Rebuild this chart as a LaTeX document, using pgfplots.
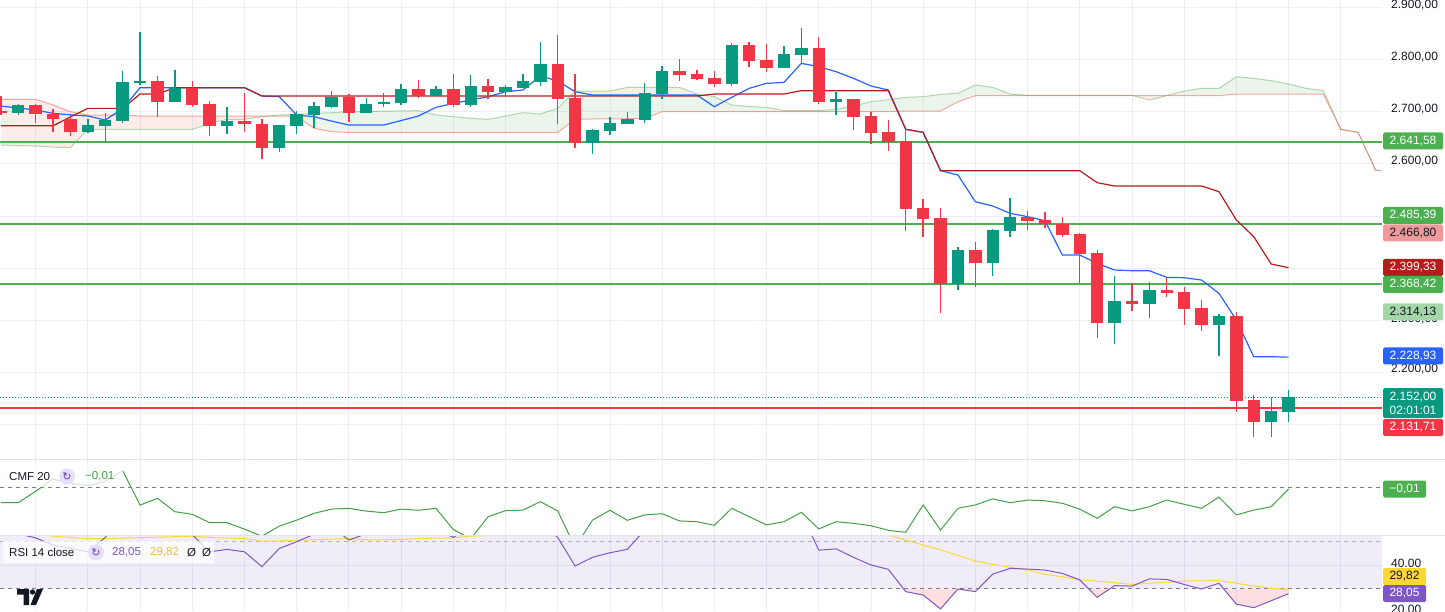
\documentclass[border=0pt]{standalone}
\usepackage{fontspec}
\setmainfont{Liberation Sans}
\newfontfamily\dejavu{DejaVu Sans}
\usepackage{pgfplots}
\usepackage{pgfplotstable}
\pgfplotsset{compat=1.18}

\definecolor{upc}{HTML}{089981}
\definecolor{downc}{HTML}{F23645}
\definecolor{tenkan}{HTML}{2962FF}
\definecolor{kijun}{HTML}{B71C1C}
\definecolor{spana}{HTML}{43A047}
\definecolor{spanb}{HTML}{F44336}
\definecolor{lvlgreen}{HTML}{4CAF50}
\definecolor{cmfc}{HTML}{43A047}
\definecolor{rsic}{HTML}{7E57C2}
\definecolor{mac}{HTML}{FDD835}
\definecolor{matext}{HTML}{F5BE2C}
\definecolor{gridc}{HTML}{EBEEF3}
\definecolor{sepc}{HTML}{E0E3EB}
\definecolor{dashc}{HTML}{787B86}
\definecolor{txt}{HTML}{131722}
\definecolor{pinkbox}{HTML}{EF9A9A}
\definecolor{lgreenbox}{HTML}{A5D6A7}
\definecolor{iconbg}{HTML}{E6DFFA}
\definecolor{iconfg}{HTML}{673AB7}

% candles: index, open, high, low, close
\pgfplotstableread{
i o h l c
1 2696.8 2714.7 2693.6 2712.8
5 2661.6 2685.9 2660.0 2673.8
6 2673.1 2696.8 2640.5 2684.0
7 2682.7 2778.1 2678.9 2757.0
8 2757.0 2852.3 2751.2 2758.9
10 2719.2 2780.0 2718.0 2746.1
13 2673.1 2708.3 2656.5 2682.1
16 2630.9 2674.0 2621.9 2673.8
17 2673.1 2701.9 2657.1 2695.5
18 2693.6 2719.2 2668.0 2710.9
19 2709.6 2739.7 2706.4 2728.2
21 2698.1 2725.6 2697.5 2714.7
22 2714.1 2735.2 2709.6 2719.2
23 2717.3 2753.1 2712.8 2742.9
25 2730.7 2749.3 2730.0 2742.9
27 2712.8 2770.4 2709.6 2749.3
29 2738.4 2751.2 2730.0 2746.7
30 2746.1 2772.3 2745.5 2758.9
31 2757.6 2833.1 2749.9 2791.5
34 2640.5 2666.1 2618.7 2664.8
35 2663.5 2690.4 2655.2 2677.6
36 2676.3 2698.7 2675.7 2685.9
37 2684.0 2754.4 2678.9 2735.2
38 2733.9 2787.7 2725.0 2778.1
42 2753.1 2831.2 2749.9 2828.0
45 2784.5 2826.1 2784.0 2810.7
46 2809.4 2860.6 2792.8 2822.2
48 2719.2 2738.4 2693.6 2723.7
55 2368.6 2440.9 2357.7 2434.5
57 2410.2 2474.8 2384.6 2472.9
58 2471.6 2535.0 2460.1 2498.5
64 2295.0 2384.6 2254.0 2336.6
66 2331.5 2373.7 2304.6 2357.7
70 2290.5 2311.0 2231.0 2307.8
73 2104.9 2152.9 2076.1 2125.4
74 2124.1 2165.7 2104.9 2152.0
}\greentab

\pgfplotstableread{
i o h l c
0 2701.9 2730.1 2693.6 2696.8
2 2712.8 2714.0 2678.9 2694.9
3 2694.9 2704.5 2661.6 2685.3
4 2685.9 2693.6 2653.9 2661.6
9 2758.9 2768.5 2690.4 2719.2
11 2746.1 2758.9 2709.6 2712.8
12 2714.7 2720.5 2653.9 2673.1
14 2682.1 2736.5 2661.6 2675.7
15 2676.3 2685.9 2608.5 2630.9
20 2728.8 2733.9 2680.8 2698.1
24 2742.9 2760.8 2725.6 2730.7
26 2743.5 2772.3 2709.6 2712.8
28 2749.3 2762.1 2725.0 2738.4
32 2791.5 2847.2 2676.3 2724.3
33 2726.9 2772.3 2629.6 2640.5
39 2778.1 2801.1 2758.9 2770.4
40 2772.3 2780.0 2760.8 2762.7
41 2764.6 2778.1 2748.0 2753.1
43 2828.0 2833.1 2786.4 2797.9
44 2799.2 2829.9 2776.8 2784.5
47 2822.2 2844.0 2714.7 2719.2
49 2724.3 2725.0 2664.8 2690.4
50 2691.7 2700.0 2637.9 2659.7
51 2661.0 2684.0 2625.1 2642.4
52 2644.4 2666.2 2471.6 2513.9
53 2515.1 2532.4 2460.1 2494.7
54 2495.9 2515.8 2314.2 2368.6
56 2434.5 2449.2 2364.1 2410.2
59 2498.5 2509.4 2472.9 2490.8
60 2492.1 2506.8 2477.4 2483.8
61 2484.4 2498.5 2460.1 2463.3
62 2465.2 2466.5 2370.5 2426.8
63 2428.7 2434.5 2266.2 2295.0
65 2336.6 2370.5 2318.0 2331.5
67 2357.7 2381.4 2344.9 2352.6
68 2353.9 2362.8 2290.5 2321.2
69 2323.1 2338.5 2279.6 2290.5
71 2307.8 2316.1 2124.1 2145.2
72 2146.5 2156.1 2076.1 2104.9
}\redtab

% conversion (tk) and base (kj) lines
\pgfplotstableread{
i tk kj
0 2710.9 2673.1
1 2707.0 2673.1
2 2703.2 2673.1
3 2696.8 2673.1
4 2694.0 2690.0
5 2691.7 2706.4
6 2684.0 2706.4
7 2706.0 2706.4
8 2746.1 2733.9
9 2746.1 2733.9
10 2746.1 2746.1
11 2746.1 2746.1
12 2746.1 2746.1
13 2746.1 2746.1
14 2746.1 2746.1
15 2730.1 2730.1
16 2728.8 2730.1
17 2693.6 2730.1
18 2690.4 2730.1
19 2682.0 2730.1
20 2674.4 2730.1
21 2674.4 2730.1
22 2674.4 2730.1
23 2683.0 2730.1
24 2691.7 2730.1
25 2708.3 2730.1
26 2716.0 2730.1
27 2722.4 2730.1
28 2728.8 2730.1
29 2738.4 2730.1
30 2741.6 2730.1
31 2768.5 2730.1
32 2758.9 2730.1
33 2738.4 2730.1
34 2732.0 2730.1
35 2732.0 2730.1
36 2732.0 2730.1
37 2732.0 2730.1
38 2732.0 2730.1
39 2732.0 2730.1
40 2732.0 2730.1
41 2709.6 2733.9
42 2727.5 2733.9
43 2744.8 2733.9
44 2754.4 2733.9
45 2756.3 2733.9
46 2792.8 2740.3
47 2786.4 2740.3
48 2776.8 2740.3
49 2764.0 2740.3
50 2749.3 2740.3
51 2741.6 2740.3
52 2666.2 2666.2
53 2660.4 2660.4
54 2586.8 2586.8
55 2578.5 2586.8
56 2527.3 2586.8
57 2519.0 2586.8
58 2504.9 2586.8
59 2498.5 2586.8
60 2490.8 2586.8
61 2424.9 2586.8
62 2424.9 2586.8
63 2408.9 2563.8
64 2396.1 2557.4
65 2394.8 2557.4
66 2394.8 2557.4
67 2382.0 2557.4
68 2381.4 2557.4
69 2376.9 2557.4
70 2351.3 2546.5
71 2300.1 2492.1
72 2229.7 2460.1
73 2229.7 2407.6
74 2228.9 2400.6
}\ichitab

% leading spans A and B
\pgfplotstableread{
i a b
0 2636.0 2723.7
1 2635.0 2723.7
2 2634.0 2723.7
3 2632.0 2712.8
4 2631.0 2700.0
5 2666.0 2693.6
6 2666.0 2693.6
7 2666.0 2693.6
8 2666.0 2691.7
9 2666.0 2691.7
10 2666.0 2691.7
11 2666.0 2691.7
12 2677.6 2691.7
13 2685.3 2691.7
14 2685.3 2691.7
15 2690.4 2691.7
16 2693.6 2691.7
17 2694.9 2691.7
18 2696.8 2668.0
19 2698.0 2661.6
20 2700.0 2660.3
21 2700.5 2660.3
22 2701.0 2660.3
23 2701.5 2660.3
24 2702.0 2660.3
25 2694.0 2660.3
26 2690.4 2660.3
27 2687.2 2660.3
28 2685.3 2660.3
29 2691.7 2660.3
30 2698.1 2660.3
31 2695.5 2660.3
32 2706.4 2660.3
33 2739.7 2685.3
34 2739.7 2686.0
35 2739.7 2686.0
36 2746.7 2686.5
37 2746.7 2687.2
38 2746.7 2700.0
39 2746.7 2700.0
40 2733.9 2700.0
41 2728.8 2700.0
42 2712.8 2700.0
43 2710.0 2700.0
44 2708.3 2700.0
45 2702.0 2700.0
46 2702.0 2700.0
47 2702.0 2700.0
48 2704.5 2700.0
49 2710.9 2700.0
50 2719.2 2700.0
51 2723.0 2700.0
52 2727.5 2701.3
53 2728.8 2701.3
54 2733.3 2701.3
55 2735.2 2719.2
56 2751.2 2730.7
57 2746.7 2730.7
58 2733.9 2730.7
59 2731.5 2730.7
60 2731.5 2730.7
61 2731.5 2730.7
62 2731.5 2730.7
63 2731.5 2730.7
64 2731.5 2730.7
65 2731.5 2730.7
66 2722.4 2730.7
67 2730.9 2730.7
68 2739.7 2730.7
69 2744.8 2730.7
70 2744.8 2730.7
71 2767.2 2733.9
72 2764.0 2733.9
73 2759.5 2733.9
74 2753.1 2733.9
75 2744.8 2733.9
76 2740.3 2733.9
77 2666.1 2666.1
78 2660.3 2660.3
79 2588.0 2588.0
79.3 2586.7 2586.7
}\cloudtab

% CMF 20, RSI 14 and its moving average
\pgfplotstableread{
i cmf rsi ma
0 -0.077 56.0 54.0
1 -0.077 53.0 53.5
2 -0.020 51.3 53.0
3 0.042 48.3 52.0
4 0.020 47.0 51.5
5 0.008 45.5 51.0
6 0.030 51.5 51.0
7 0.083 60.0 51.2
8 -0.089 58.0 51.4
9 -0.055 55.0 51.6
10 -0.122 56.0 51.8
11 -0.135 52.6 52.0
12 -0.177 45.5 51.5
13 -0.177 46.5 51.2
14 -0.209 45.5 51.0
15 -0.245 39.3 50.0
16 -0.194 46.9 50.0
17 -0.164 49.7 50.3
18 -0.130 52.8 50.5
19 -0.109 56.0 50.8
20 -0.105 50.4 51.0
21 -0.119 53.0 50.5
22 -0.127 56.0 50.5
23 -0.109 58.0 50.6
24 -0.115 56.0 51.0
25 -0.105 55.0 51.2
26 -0.211 51.5 51.3
27 -0.258 56.0 52.0
28 -0.147 58.0 52.3
29 -0.117 58.0 53.0
30 -0.114 60.0 54.0
31 -0.072 57.0 55.0
32 -0.118 51.5 54.5
33 -0.300 39.6 53.5
34 -0.164 43.2 53.0
35 -0.115 45.1 52.7
36 -0.165 46.5 52.3
37 -0.138 54.6 52.2
38 -0.132 60.0 52.3
39 -0.168 58.0 52.4
40 -0.172 57.0 53.0
41 -0.190 56.0 53.5
42 -0.105 65.0 54.0
43 -0.147 60.0 54.5
44 -0.188 58.0 55.0
45 -0.172 60.0 55.5
46 -0.125 62.0 55.5
47 -0.208 46.2 55.0
48 -0.172 46.7 54.5
49 -0.180 43.2 54.0
50 -0.192 40.0 53.3
51 -0.215 38.2 52.5
52 -0.225 28.9 50.4
53 -0.088 27.5 48.3
54 -0.214 21.7 46.3
55 -0.105 30.0 44.0
56 -0.088 28.9 41.7
57 -0.058 36.2 40.3
58 -0.077 38.6 39.1
59 -0.064 38.3 37.9
60 -0.067 37.9 36.1
61 -0.080 36.5 35.1
62 -0.109 33.8 33.8
63 -0.155 26.5 33.3
64 -0.097 31.4 32.6
65 -0.118 31.2 31.9
66 -0.097 34.2 32.4
67 -0.064 34.0 32.8
68 -0.085 31.9 33.3
69 -0.105 30.0 33.4
70 -0.049 32.4 33.5
71 -0.138 23.7 32.4
72 -0.114 22.2 31.2
73 -0.097 25.1 30.3
74 -0.0085 28.05 29.82
}\osctab

\pgfplotsset{
  panel/.style={scale only axis, width=1382pt, xmin=-0.05, xmax=79.37,
    anchor=south west, axis line style={draw=none}, tick style={draw=none},
    xticklabels={}, yticklabels={}, xtick={2,5,...,77}, xmajorgrids,
    major grid style={gridc, line width=0.8pt}},
  candle/.style 2 args={draw=none, mark=none, forget plot,
    error bars/y dir=both, error bars/y explicit, error bars/error mark=none,
    error bars/error bar style={draw=#1, line width=#2}},
  redcloud/.style={draw=none, fill=spanb, fill opacity=0.1, forget plot},
  greencloud/.style={draw=none, fill=spana, fill opacity=0.1, forget plot},
  oversold/.style={draw=none, fill=downc, fill opacity=0.16, forget plot},
}

\begin{document}
\begin{tikzpicture}[x=1pt, y=1pt]
\useasboundingbox (0,0) rectangle (1445,611);

% price panel
\begin{axis}[panel, at={(0pt,152pt)}, height=459pt,
  ymin=2033.4, ymax=2914.4, ytick={2100,2200,...,2900}, ymajorgrids]
  % cloud: span A forward, span B back, split where they cross
  \addplot[redcloud] coordinates {(0,2636) (1,2635) (2,2634) (3,2632) (4,2631)
    (5,2666) (6,2666) (7,2666) (8,2666) (9,2666) (10,2666) (11,2666) (12,2677.6)
    (13,2685.3) (14,2685.3) (15,2690.4) (15.41,2691.7) (15,2691.7) (8,2691.7)
    (7,2693.6) (5,2693.6) (4,2700) (3,2712.8) (2,2723.7) (0,2723.7)} --cycle;
  \addplot[greencloud] coordinates {(15.41,2691.7) (16,2693.6) (17,2694.9)
    (18,2696.8) (19,2698) (20,2700) (21,2700.5) (22,2701) (23,2701.5) (24,2702)
    (25,2694) (26,2690.4) (27,2687.2) (28,2685.3) (29,2691.7) (30,2698.1)
    (31,2695.5) (32,2706.4) (33,2739.7) (35,2739.7) (36,2746.7) (39,2746.7)
    (40,2733.9) (41,2728.8) (42,2712.8) (43,2710) (44,2708.3) (45,2702) (47,2702)
    (48,2704.5) (49,2710.9) (50,2719.2) (51,2723) (52,2727.5) (53,2728.8)
    (54,2733.3) (55,2735.2) (56,2751.2) (57,2746.7) (58,2733.9) (59,2731.5)
    (65,2731.5) (65.09,2730.7) (56,2730.7) (55,2719.2) (54,2701.3) (52,2701.3)
    (51,2700) (38,2700) (37,2687.2) (36,2686.5) (35,2686) (34,2686) (33,2685.3)
    (32,2660.3) (20,2660.3) (19,2661.6) (18,2668) (17,2691.7) (16,2691.7)} --cycle;
  \addplot[redcloud] coordinates {(65.09,2730.7) (66,2722.4) (66.98,2730.7)} --cycle;
  \addplot[greencloud] coordinates {(66.98,2730.7) (67,2730.9) (68,2739.7)
    (69,2744.8) (70,2744.8) (71,2767.2) (72,2764) (73,2759.5) (74,2753.1)
    (75,2744.8) (76,2740.3) (77,2666.1) (76,2733.9) (71,2733.9) (70,2730.7)} --cycle;
  \addplot[spana, draw opacity=0.4, line width=1pt] table[x=i, y=a] {\cloudtab};
  \addplot[spanb, draw opacity=0.45, line width=1pt] table[x=i, y=b] {\cloudtab};

  \addplot[lvlgreen, line width=2pt] coordinates {(-0.05,2641.58) (79.37,2641.58)};
  \addplot[lvlgreen, line width=2pt] coordinates {(-0.05,2485.39) (79.37,2485.39)};
  \addplot[lvlgreen, line width=2pt] coordinates {(-0.05,2368.42) (79.37,2368.42)};
  \addplot[downc, line width=2pt] coordinates {(-0.05,2131.71) (79.37,2131.71)};

  \addplot[tenkan, line width=1.2pt] table[x=i, y=tk] {\ichitab};
  \addplot[kijun, line width=1.2pt] table[x=i, y=kj] {\ichitab};

  \addplot[candle={upc}{1.3pt}] table[x=i, y expr={(\thisrow{h}+\thisrow{l})/2},
    y error expr={(\thisrow{h}-\thisrow{l})/2}] {\greentab};
  \addplot[candle={downc}{1.3pt}] table[x=i, y expr={(\thisrow{h}+\thisrow{l})/2},
    y error expr={(\thisrow{h}-\thisrow{l})/2}] {\redtab};
  \addplot[candle={upc}{12.4pt}] table[x=i, y expr={(\thisrow{o}+\thisrow{c})/2},
    y error expr={abs(\thisrow{c}-\thisrow{o})/2}] {\greentab};
  \addplot[candle={downc}{12.4pt}] table[x=i, y expr={(\thisrow{o}+\thisrow{c})/2},
    y error expr={abs(\thisrow{c}-\thisrow{o})/2}] {\redtab};

  \addplot[upc, line width=1pt, dash pattern=on 1pt off 2pt] coordinates {(-0.05,2152) (79.37,2152)};
\end{axis}

% CMF panel
\begin{axis}[panel, at={(0pt,76pt)}, height=76pt, ymin=-0.2385, ymax=0.1415, ytick=\empty]
  \addplot[dashc, line width=1pt, dash pattern=on 4pt off 4pt] coordinates {(-0.05,0) (79.37,0)};
  \addplot[cmfc, line width=1pt] table[x=i, y=cmf] {\osctab};
\end{axis}

% RSI panel
\begin{axis}[panel, at={(0pt,0pt)}, height=76pt, ymin=20.83, ymax=52.5, ytick={40}, ymajorgrids]
  \addplot[draw=none, fill=rsic, fill opacity=0.11] coordinates {(-0.05,30) (79.37,30) (79.37,70) (-0.05,70)} --cycle;
  % oversold areas (RSI below 30)
  \addplot[oversold] coordinates {(51.88,30) (52,28.9) (53,27.5) (54,21.7) (55,30)} --cycle;
  \addplot[oversold] coordinates {(55,30) (56,28.9) (56.15,30)} --cycle;
  \addplot[oversold] coordinates {(62.52,30) (63,26.5) (63.71,30)} --cycle;
  \addplot[oversold] coordinates {(70.28,30) (71,23.7) (72,22.2) (73,25.1) (74,28.05) (74,30)} --cycle;
  \addplot[dashc, draw opacity=0.5, line width=1pt, dash pattern=on 4pt off 4pt] coordinates {(-0.05,50) (79.37,50)};
  \addplot[dashc, line width=1pt, dash pattern=on 4pt off 4pt] coordinates {(-0.05,30) (79.37,30)};
  \addplot[mac, line width=1pt] table[x=i, y=ma] {\osctab};
  \addplot[rsic, line width=1pt] table[x=i, y=rsi] {\osctab};
\end{axis}

% panel separators
\draw[sepc, line width=1pt] (0,152) -- (1445,152);
\draw[sepc, line width=1pt] (0,76) -- (1445,76);

% price scale
\tikzset{lbl/.style={anchor=west, inner sep=0pt, text=txt, font=\fontsize{12}{14}\selectfont},
  box/.style={inner sep=0pt, minimum width=60pt, minimum height=17pt, rounded corners=1.5pt,
    text=white, font=\fontsize{12}{14}\selectfont},
  sbox/.style={box, minimum width=43pt}}
\node[lbl] at (1391,606) {2.900,00};
\node[lbl] at (1391,553.5) {2.800,00};
\node[lbl] at (1391,502) {2.700,00};
\node[lbl] at (1391,450) {2.600,00};
\node[lbl] at (1391,292) {2.300,00};
\node[lbl] at (1391,241.5) {2.200,00};
\node[lbl] at (1391,48) {40.00};
\node[lbl] at (1391,2) {20.00};

\node[box, fill=lvlgreen] at (1413,470) {2.641,58};
\node[box, fill=lvlgreen] at (1413,395.5) {2.485,39};
\node[box, fill=pinkbox, text=txt] at (1413,378) {2.466,80};
\node[box, fill=kijun] at (1413,343.5) {2.399,33};
\node[box, fill=lvlgreen] at (1413,326.5) {2.368,42};
\node[box, fill=lgreenbox, text=txt] at (1413,299) {2.314,13};
\node[box, fill=tenkan] at (1413,255) {2.228,93};
\node[box, fill=upc, minimum height=30pt, align=center] at (1413,208) {2.152,00\\02:01:01};
\node[box, fill=downc] at (1413,183.5) {2.131,71};
\node[sbox, fill=lvlgreen] at (1404.5,122) {−0,01};
\node[sbox, fill=mac, text=txt] at (1404.5,34.5) {29,82};
\node[sbox, fill=rsic] at (1404.5,17.5) {28,05};

% indicator legends
\tikzset{leg/.style={anchor=west, inner sep=0pt, font=\fontsize{11.5}{13}\selectfont}}
\fill[white, opacity=0.75] (3,124) rectangle (123,145);
\node[leg, text=txt] at (9,134.5) {CMF 20};
\fill[iconbg] (67,134.5) circle (8);
\node[inner sep=0pt, text=iconfg, font=\dejavu\fontsize{11}{12}\selectfont] at (67,134.5) {↻};
\node[leg, text=cmfc] at (85,134.5) {−0,01};

\fill[white, opacity=0.75] (3,48) rectangle (214,70);
\node[leg, text=txt] at (9,58.5) {RSI 14 close};
\fill[iconbg] (96,58.5) circle (8);
\node[inner sep=0pt, text=iconfg, font=\dejavu\fontsize{11}{12}\selectfont] at (96,58.5) {↻};
\node[leg, text=rsic] at (112,58.5) {28,05};
\node[leg, text=matext] at (150,58.5) {29,82};
\node[leg, text=txt] at (187,58.5) {Ø};
\node[leg, text=txt] at (202,58.5) {Ø};

% logo
\fill[txt] (17,22) -- (29,22) -- (29,6) -- (23.5,6) -- (23.5,16.5) -- (17,16.5) -- cycle;
\fill[txt] (32.5,19) circle (2.7);
\fill[txt] (37,22) -- (43,22) -- (36,6) -- (30.5,6) -- cycle;
\end{tikzpicture}
\end{document}
